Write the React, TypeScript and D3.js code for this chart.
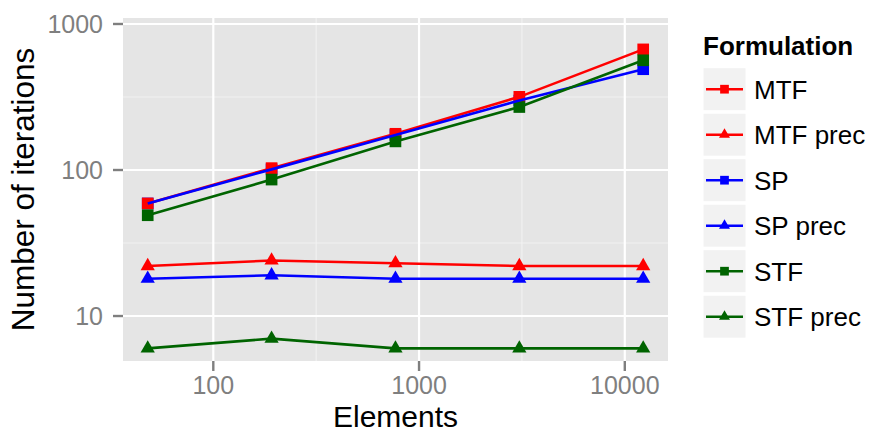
import React from "react";
import * as d3 from "d3";

// data
const elements = [48, 192, 768, 3072, 12288];
const mtf = [59, 103, 177, 317, 670];
const mtfPrec = [22, 24, 23, 22, 22];
const sp = [59, 101, 174, 299, 490];
const spPrec = [18, 19, 18, 18, 18];
const stf = [49, 86, 157, 270, 564];
const stfPrec = [6, 7, 6, 6, 6];

const seriesNames = ["MTF", "MTF prec", "SP", "SP prec", "STF", "STF prec"];
const seriesValues = [mtf, mtfPrec, sp, spPrec, stf, stfPrec];
const seriesColors = ["#ff0000", "#ff0000", "#0000ff", "#0000ff", "#006400", "#006400"];
const seriesShapes = ["square", "triangle", "square", "triangle", "square", "triangle"];
// blue squares sit underneath the red ones in the original
const pointOrder = [2, 3, 0, 1, 4, 5];

const xTicks = [100, 1000, 10000];
const yTicks = [10, 100, 1000];
const xMinor = [Math.pow(10, 2.5), Math.pow(10, 3.5)];
const yMinor = [Math.pow(10, 1.5), Math.pow(10, 2.5)];

const W = 869;
const H = 433;
const panel = { left: 123, right: 668, top: 18, bottom: 361 };
const font = "'Liberation Sans', Arial, Helvetica, sans-serif";
const grey50 = "#7f7f7f";

function symbolPath(shape: string, area: number) {
    const t = shape === "square" ? d3.symbolSquare : d3.symbolTriangle;
    return d3.symbol().type(t).size(area)() as string;
}

export default function App() {
    const x = d3.scaleLog().domain([36.4, 16218]).range([panel.left, panel.right]);
    const y = d3.scaleLog().domain([4.92, 1099]).range([panel.bottom, panel.top]);

    const line = d3.line<number>()
        .x((_, i) => x(elements[i]))
        .y(d => y(d));

    const legendX = 703;
    const legendTop = 67.7;
    const keyStep = 45.5;

    return (
        <svg width={W} height={H} style={{ position: "absolute", left: 0, top: 0 }} fontFamily={font}>
            <rect x={0} y={0} width={W} height={H} fill="#ffffff" />
            {/* panel */}
            <rect x={panel.left} y={panel.top} width={panel.right - panel.left} height={panel.bottom - panel.top} fill="#e5e5e5" />
            {yMinor.map(v => (
                <line key={"ym" + v} x1={panel.left} x2={panel.right} y1={y(v)} y2={y(v)} stroke="#f2f2f2" strokeWidth={1.1} />
            ))}
            {xMinor.map(v => (
                <line key={"xm" + v} x1={x(v)} x2={x(v)} y1={panel.top} y2={panel.bottom} stroke="#f2f2f2" strokeWidth={1.1} />
            ))}
            {yTicks.map(v => (
                <line key={"yg" + v} x1={panel.left} x2={panel.right} y1={y(v)} y2={y(v)} stroke="#ffffff" strokeWidth={2.2} />
            ))}
            {xTicks.map(v => (
                <line key={"xg" + v} x1={x(v)} x2={x(v)} y1={panel.top} y2={panel.bottom} stroke="#ffffff" strokeWidth={2.2} />
            ))}

            {/* points, then lines on top */}
            {pointOrder.map(s => (
                <g key={"p" + s} fill={seriesColors[s]}>
                    {seriesValues[s].map((v, i) => (
                        <path key={i}
                            transform={`translate(${x(elements[i])},${y(v)})`}
                            d={symbolPath(seriesShapes[s], seriesShapes[s] === "square" ? 136 : 88)} />
                    ))}
                </g>
            ))}
            {seriesValues.map((vals, s) => (
                <path key={"l" + s} d={line(vals) as string} fill="none" stroke={seriesColors[s]} strokeWidth={2.6} />
            ))}

            {/* y axis */}
            {yTicks.map(v => (
                <g key={"yt" + v}>
                    <line x1={panel.left - 10} x2={panel.left} y1={y(v)} y2={y(v)} stroke={grey50} strokeWidth={2.4} />
                    <text x={panel.left - 20} y={y(v)} dy="0.35em" textAnchor="end" fontSize={25} fill={grey50}>{v}</text>
                </g>
            ))}
            {/* x axis */}
            {xTicks.map(v => (
                <g key={"xt" + v}>
                    <line x1={x(v)} x2={x(v)} y1={panel.bottom} y2={panel.bottom + 10} stroke={grey50} strokeWidth={2.4} />
                    <text x={x(v)} y={394} textAnchor="middle" fontSize={25} fill={grey50}>{v}</text>
                </g>
            ))}

            <text x={(panel.left + panel.right) / 2} y={427} textAnchor="middle" fontSize={30} fill="#000">Elements</text>
            <text transform={`translate(34,${(panel.top + panel.bottom) / 2}) rotate(-90)`} textAnchor="middle" fontSize={31.5} fill="#000">Number of iterations</text>

            {/* legend */}
            <text x={legendX} y={55} fontSize={26} fontWeight="bold" fill="#000">Formulation</text>
            {seriesNames.map((name, s) => {
                const top = legendTop + s * keyStep;
                const cy = top + 21.5;
                return (
                    <g key={"lg" + s}>
                        <rect x={legendX} y={top} width={43} height={43} fill="#f2f2f2" stroke="#ffffff" strokeWidth={1} />
                        <line x1={legendX + 3} x2={legendX + 40} y1={cy} y2={cy} stroke={seriesColors[s]} strokeWidth={2.6} />
                        <path transform={`translate(${legendX + 21.5},${cy})`} fill={seriesColors[s]}
                            d={symbolPath(seriesShapes[s], seriesShapes[s] === "square" ? 76 : 52)} />
                        <text x={754} y={cy} dy="0.36em" fontSize={26} fill="#000">{name}</text>
                    </g>
                );
            })}
        </svg>
    );
}
